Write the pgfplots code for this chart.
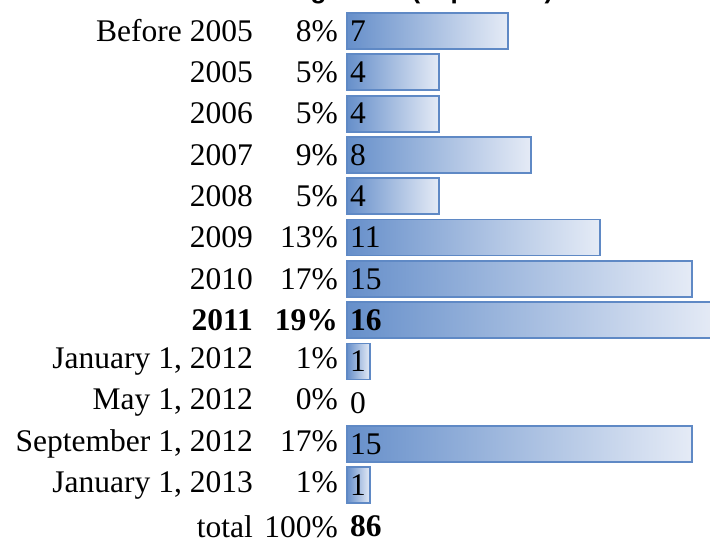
\documentclass[border=0pt]{standalone}
\usepackage{pgfplots}
\pgfplotsset{compat=1.18}
\usepackage{fontspec}
\setmainfont{Liberation Serif}
\newfontfamily\titlefont{Liberation Sans}
\definecolor{barborder}{RGB}{95,137,197}
\definecolor{barleft}{RGB}{102,143,202}
\definecolor{barright}{RGB}{229,235,246}
\pgfplotsset{gbar/.style={xbar, bar width=36pt, draw=barborder, line width=1.8pt,
  left color=barleft, right color=barright, forget plot}}
\begin{document}
\begin{tikzpicture}
\begin{axis}[
  x=23pt, y=41.3pt, y dir=reverse,
  xmin=0, xmax=16.5, ymin=-0.6, ymax=12.6,
  axis x line=none, axis y line*=left, y axis line style={draw=none},
  ytick={0,...,12}, ytick style={draw=none}, major tick length=0pt,
  yticklabels={
    {Before 2005\makebox[85pt][r]{8\%}},
    {2005\makebox[85pt][r]{5\%}},
    {2006\makebox[85pt][r]{5\%}},
    {2007\makebox[85pt][r]{9\%}},
    {2008\makebox[85pt][r]{5\%}},
    {2009\makebox[85pt][r]{13\%}},
    {2010\makebox[85pt][r]{17\%}},
    {\textbf{2011}\makebox[85pt][r]{\textbf{19\%}}},
    {January 1, 2012\makebox[85pt][r]{1\%}},
    {May 1, 2012\makebox[85pt][r]{0\%}},
    {September 1, 2012\makebox[85pt][r]{17\%}},
    {January 1, 2013\makebox[85pt][r]{1\%}},
    {total\makebox[85pt][r]{100\%}}
  },
  yticklabel style={font=\fontsize{31.5}{36}\selectfont, anchor=east, inner sep=0pt, xshift=-9pt},
  clip=false,
]
\addplot[gbar] coordinates {(7,0)};
\addplot[gbar] coordinates {(4,1)};
\addplot[gbar] coordinates {(4,2)};
\addplot[gbar] coordinates {(8,3)};
\addplot[gbar] coordinates {(4,4)};
\addplot[gbar] coordinates {(11,5)};
\addplot[gbar] coordinates {(15,6)};
\addplot[gbar] coordinates {(16,7)};
\addplot[gbar] coordinates {(1,8)};
\addplot[gbar] coordinates {(15,10)};
\addplot[gbar] coordinates {(1,11)};
\addplot[only marks, mark=none, nodes near coords, point meta=explicit symbolic,
  nodes near coords style={anchor=west, inner sep=3pt, font=\fontsize{31.5}{36}\selectfont}]
  coordinates {(0,0) [7] (0,1) [4] (0,2) [4] (0,3) [8] (0,4) [4] (0,5) [11] (0,6) [15] (0,8) [1] (0,9) [0] (0,10) [15] (0,11) [1]};
\addplot[only marks, mark=none, nodes near coords, point meta=explicit symbolic,
  nodes near coords style={anchor=west, inner sep=3pt, font=\fontsize{31.5}{36}\selectfont\bfseries}]
  coordinates {(0,7) [16] (0,12) [86]};
\coordinate (O) at (axis cs:0,0);
\end{axis}
\node[anchor=base west, inner sep=0pt, font=\titlefont\bfseries\fontsize{26}{30}\selectfont]
  at ([shift={(-119pt,32pt)}]O) {Starting Dates (in percent)};
\pgfresetboundingbox
\path[use as bounding box] ([shift={(-347pt,31pt)}]O) rectangle ++(710pt,-542pt);
\end{tikzpicture}
\end{document}
